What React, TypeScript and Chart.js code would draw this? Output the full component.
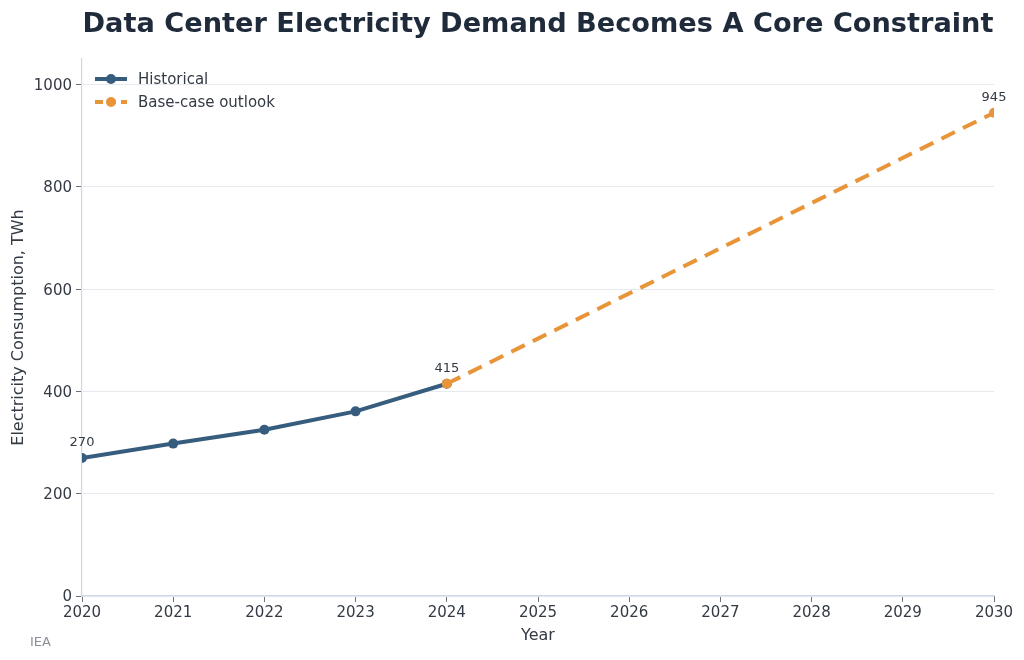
import React, { useEffect, useRef } from "react";
import { Chart, registerables } from "chart.js";

Chart.register(...registerables);

const TITLE = "Data Center Electricity Demand Becomes A Core Constraint";
const historicalYears = [2020, 2021, 2022, 2023, 2024];
const historicalValues = [270, 298, 325, 361, 415];
const outlookYears = [2024, 2030];
const outlookValues = [415, 945];
const labelledPoints = [
  { year: 2020, value: 270 },
  { year: 2024, value: 415 },
  { year: 2030, value: 945 },
];
const legendItems = [
  { label: "Historical", color: "#365c7e", dash: [] as number[] },
  { label: "Base-case outlook", color: "#e8953a", dash: [8, 5] },
];
const SOURCE = "IEA";

const FONT = "'DejaVu Sans', sans-serif";
const TEXT = "#333a44";

const decorations = {
  id: "decorations",
  afterDatasetsDraw(chart: any) {
    const { ctx, chartArea, scales } = chart;
    const x = scales.x;
    const y = scales.y;
    ctx.save();
    // title
    ctx.fillStyle = "#1f2a3a";
    ctx.font = `bold 27.2px ${FONT}`;
    ctx.textAlign = "center";
    ctx.textBaseline = "alphabetic";
    ctx.fillText(TITLE, (chartArea.left + chartArea.right) / 2, 32);

    // value labels
    ctx.font = `13px ${FONT}`;
    ctx.fillStyle = TEXT;
    ctx.textBaseline = "bottom";
    for (const p of labelledPoints) {
      ctx.fillText(String(p.value), x.getPixelForValue(p.year), y.getPixelForValue(p.value) - 9);
    }

    // legend
    ctx.textAlign = "left";
    ctx.textBaseline = "middle";
    ctx.font = `15px ${FONT}`;
    legendItems.forEach((item, i) => {
      const ly = 79 + i * 23;
      const lx = 95;
      ctx.strokeStyle = item.color;
      ctx.lineWidth = 4;
      ctx.setLineDash(item.dash);
      ctx.beginPath();
      ctx.moveTo(lx, ly);
      ctx.lineTo(lx + 32, ly);
      ctx.stroke();
      ctx.setLineDash([]);
      ctx.fillStyle = item.color;
      ctx.beginPath();
      ctx.arc(lx + 16, ly, 5, 0, Math.PI * 2);
      ctx.fill();
      ctx.fillStyle = TEXT;
      ctx.fillText(item.label, lx + 43, ly + 1);
    });

    // source note
    ctx.font = `13px ${FONT}`;
    ctx.fillStyle = "#8a8f98";
    ctx.textBaseline = "alphabetic";
    ctx.fillText(SOURCE, 30, 646);
    ctx.restore();
  },
};

export default function App() {
  const ref = useRef<HTMLCanvasElement>(null);
  useEffect(() => {
    if (!ref.current) return;
    const chart = new Chart(ref.current, {
      type: "line",
      data: {
        datasets: [
          {
            label: legendItems[0].label,
            data: historicalYears.map((yr, i) => ({ x: yr, y: historicalValues[i] })),
            borderColor: legendItems[0].color,
            backgroundColor: legendItems[0].color,
            borderWidth: 4,
            pointRadius: 5,
            pointBorderWidth: 0,
            tension: 0,
            order: 1,
          },
          {
            label: legendItems[1].label,
            data: outlookYears.map((yr, i) => ({ x: yr, y: outlookValues[i] })),
            borderColor: legendItems[1].color,
            backgroundColor: legendItems[1].color,
            borderWidth: 4,
            borderDash: [15, 9],
            pointRadius: 5,
            pointBorderWidth: 0,
            tension: 0,
            order: 0,
          },
        ],
      },
      options: {
        animation: false,
        responsive: false,
        maintainAspectRatio: false,
        layout: { padding: { top: 59, right: 30, left: 9, bottom: 0 } },
        plugins: {
          legend: { display: false },
          title: { display: false },
          tooltip: { enabled: false },
        },
        scales: {
          x: {
            type: "linear",
            min: 2020,
            max: 2030,
            afterFit: (s: any) => { s.height = 64; },
            ticks: {
              stepSize: 1,
              callback: (v: any) => String(v),
              font: { family: FONT, size: 15 },
              color: TEXT,
              padding: 2,
              maxRotation: 0,
            },
            grid: { drawOnChartArea: false, tickLength: 6, color: "#6b7280", tickColor: "#6b7280" },
            border: { color: "#cfd8e6", width: 1.2 },
            title: {
              display: true,
              text: "Year",
              font: { family: FONT, size: 16 },
              color: TEXT,
              padding: { top: 4, bottom: 15 },
            },
          },
          y: {
            type: "linear",
            min: 0,
            max: 1050,
            afterFit: (s: any) => { s.width = 73; },
            afterBuildTicks: (s: any) => {
              s.ticks = s.ticks.filter((t: any) => t.value % 200 === 0);
            },
            ticks: {
              stepSize: 200,
              callback: (v: any) => String(v),
              font: { family: FONT, size: 15 },
              color: TEXT,
              padding: 4,
              labelOffset: 1.5,
            },
            grid: { color: "#e6e9ee", tickLength: 6, tickColor: "#6b7280", lineWidth: 1 },
            border: { color: "#cfd8e6", width: 1.2 },
            title: {
              display: true,
              text: "Electricity Consumption, TWh",
              font: { family: FONT, size: 16 },
              color: TEXT,
              padding: { top: 0, bottom: 6 },
            },
          },
        },
      },
      plugins: [decorations],
    });
    return () => chart.destroy();
  }, []);
  return (
    <div style={{ position: "fixed", left: 0, top: 0, width: 1024, height: 660, background: "#fff" }}>
      <canvas ref={ref} width={1024} height={660} style={{ width: 1024, height: 660 }} />
    </div>
  );
}
